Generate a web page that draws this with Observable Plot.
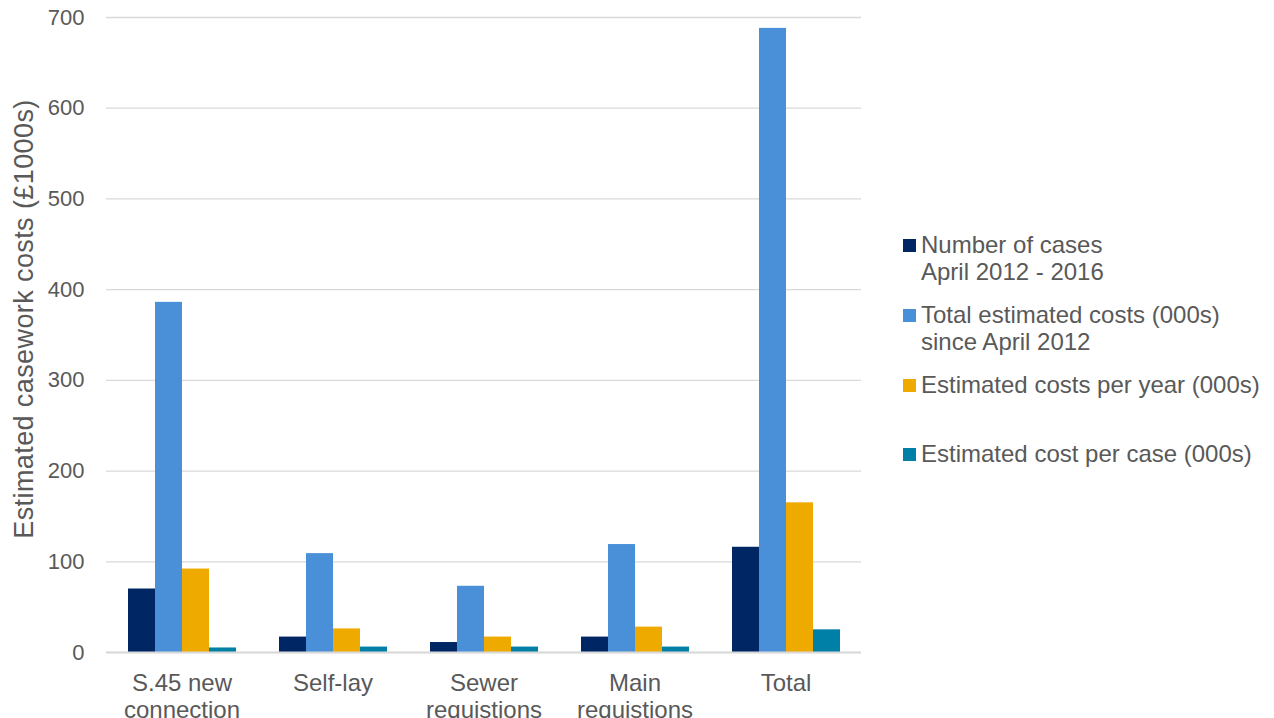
<!DOCTYPE html>
<html>
<head>
<meta charset="utf-8">
<script src="https://cdn.jsdelivr.net/npm/d3@7"></script>
<script src="https://cdn.jsdelivr.net/npm/@observablehq/plot@0.6"></script>
<style>
  html, body { margin: 0; padding: 0; background: #fff; }
  body { width: 1274px; height: 718px; position: relative; overflow: hidden; font-family: "Liberation Sans", Arial, sans-serif; }
  #chart { position: absolute; left: 0; top: 0; }
  #chart svg { font-family: "Liberation Sans", Arial, sans-serif; }
  #ylabel { position: absolute; left: 24px; top: 319px; transform: translate(-50%, -50%) rotate(-90deg); white-space: nowrap; color: #595959; font-size: 27px; letter-spacing: 0.4px; line-height: 1; }
  #legend { position: absolute; left: 903px; top: 231px; color: #595959; font-size: 24px; line-height: 27px; }
  .item { display: flex; align-items: flex-start; }
  .sw { width: 13px; height: 13px; margin-top: 8px; margin-right: 5px; flex: none; }
</style>
</head>
<body>
<div id="chart"></div>
<div id="ylabel"></div>
<div id="legend"></div>
<script>
const categories = ["S.45 new\nconnection", "Self-lay", "Sewer\nrequistions", "Main\nrequistions", "Total"];
const seriesNames = [
  "Number of cases\nApril 2012 - 2016",
  "Total estimated costs (000s)\nsince April 2012",
  "Estimated costs per year (000s)",
  "Estimated cost per case (000s)"
];
const colors = ["#002664", "#4a90d9", "#efaa00", "#0080a6"];
const numberOfCases = [70, 17, 11, 17, 116];
const totalCosts = [386, 109, 73, 119, 688];
const costsPerYear = [92, 26, 17, 28, 165];
const costPerCase = [5, 6, 6, 6, 25];
const yTicks = [0, 100, 200, 300, 400, 500, 600, 700];
const yLabel = "Estimated casework costs (£1000s)";

const seriesValues = [numberOfCases, totalCosts, costsPerYear, costPerCase];
const data = [];
categories.forEach((c, ci) => {
  seriesNames.forEach((s, si) => {
    data.push({category: c, series: s, value: seriesValues[si][ci]});
  });
});

const chart = Plot.plot({
  width: 861,
  height: 718,
  marginLeft: 106,
  marginRight: 0,
  marginTop: 17,
  marginBottom: 66,
  style: {fontSize: "22px", color: "#595959", background: "transparent"},
  fx: {domain: categories, padding: 0, paddingOuter: 0, label: null},
  x: {domain: seriesNames, paddingInner: 0, paddingOuter: 0.7, axis: null},
  y: {domain: [0, 700], ticks: yTicks},
  color: {domain: seriesNames, range: colors},
  marks: [
    Plot.gridY(yTicks, {stroke: "#d9d9d9", strokeOpacity: 1, strokeWidth: 1.3}),
    Plot.axisY(yTicks, {tickSize: 0, tickPadding: 22, fontSize: 22, label: null}),
    Plot.axisFx({anchor: "bottom", tickSize: 0, tickPadding: 20, fontSize: 24, lineHeight: 1.1, label: null}),
    Plot.barY(data, {fx: "category", x: "series", y: "value", fill: "series"}),
    Plot.ruleY([0], {stroke: "#d9d9d9", strokeWidth: 2})
  ]
});
document.getElementById("chart").appendChild(chart);
document.getElementById("ylabel").textContent = yLabel;

const legend = document.getElementById("legend");
const gaps = [0, 16, 16, 42];
seriesNames.forEach((s, i) => {
  const item = document.createElement("div");
  item.className = "item";
  item.style.marginTop = gaps[i] + "px";
  const sw = document.createElement("div");
  sw.className = "sw";
  sw.style.background = colors[i];
  const label = document.createElement("div");
  label.innerHTML = s.split("\n").join("<br>");
  item.appendChild(sw);
  item.appendChild(label);
  legend.appendChild(item);
});
</script>
</body>
</html>
